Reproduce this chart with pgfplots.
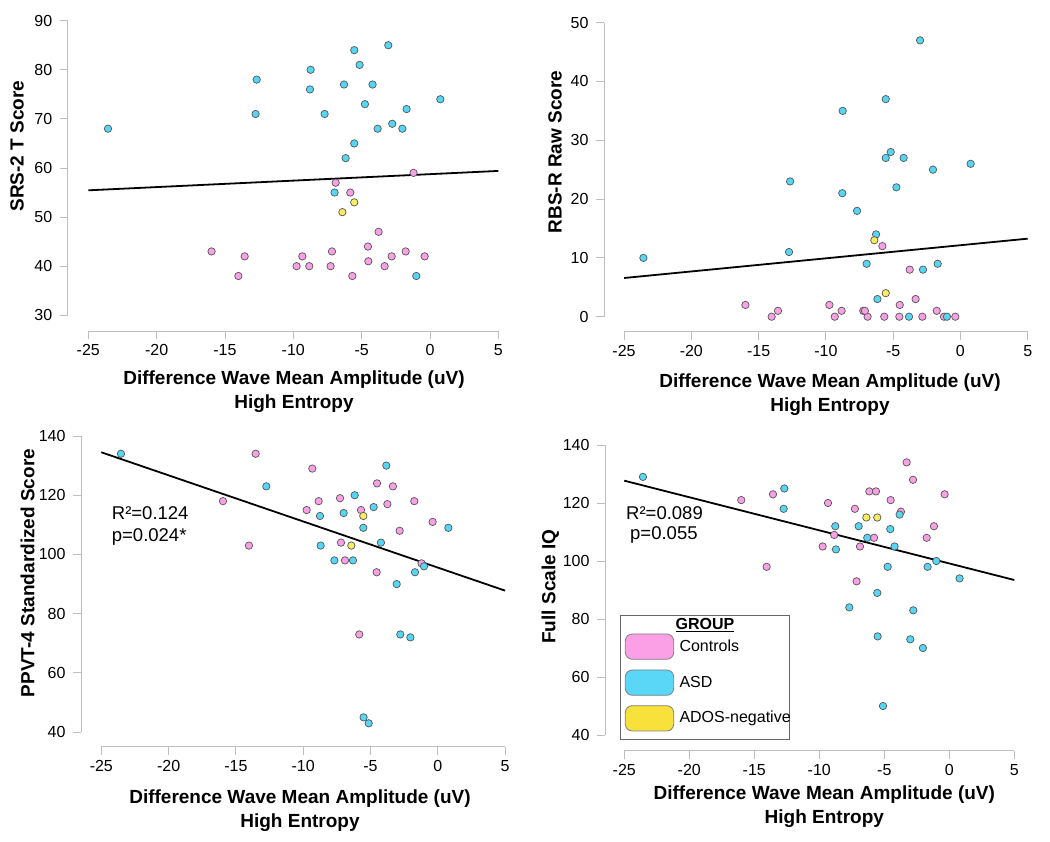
\documentclass[border=0pt]{standalone}
\usepackage{fontspec}
\setmainfont{Liberation Sans}
\usepackage{pgfplots}
\pgfplotsset{compat=1.18}
\definecolor{pinkc}{RGB}{249,160,230}
\definecolor{cyanc}{RGB}{86,214,245}
\definecolor{yelc}{RGB}{248,236,96}
\definecolor{lpink}{RGB}{251,160,230}
\definecolor{lcyan}{RGB}{90,215,247}
\definecolor{lyel}{RGB}{248,225,58}
\definecolor{axgray}{RGB}{190,190,190}
\definecolor{mkgray}{RGB}{85,85,85}
\newcommand{\tfont}{\fontsize{16}{16}\selectfont}
\pgfplotsset{panel/.style={scale only axis, anchor=south west,
  axis x line=bottom, axis y line=left, axis line style={draw=none,-},
  tick align=outside, major tick length=8pt,
  tick style={draw=axgray, line width=0.9pt},
  xtick={-25,-20,...,5}, xmax=5,
  xticklabel={\tfont\pgfmathprintnumber[assume math mode=true]{\tick}},
  yticklabel={\tfont\pgfmathprintnumber[assume math mode=true]{\tick}},
  xticklabel style={yshift=-2pt},
  yticklabel style={xshift=-4pt},
  clip=false},
  pts/.style={only marks, mark=*, mark size=3.7pt, mark options={draw=mkgray, line width=0.7pt, fill=#1}},
  reg/.style={black, line width=1.8pt, no marks}}
\newcommand{\lab}{\bfseries\fontsize{19}{19}\selectfont}
\begin{document}
\begin{tikzpicture}[x=1pt,y=1pt]
\useasboundingbox (0,0) rectangle (1050,842);
% ---------- Panel 1: SRS-2 ----------
\begin{axis}[panel, at={(67.8pt,511pt)}, width=430.5pt, height=310.3pt,
  xmin=-26.5, ymin=26.8, ymax=90, ytick={30,40,...,90}]
\draw[axgray, line width=0.9pt] (axis cs:-25,26.8) -- (axis cs:5,26.8);
\draw[axgray, line width=0.9pt] (axis cs:-26.5,30) -- (axis cs:-26.5,90);
\addplot[pts=pinkc] table {
-6.90 57
-5.83 55
-1.20 59
-3.76 47
-4.54 44
-4.51 41
-3.32 40
-2.80 42
-1.78 43
-0.39 42
-5.68 38
-7.17 43
-7.27 40
-8.83 40
-9.34 42
-9.76 40
-14.02 38
-13.56 42
-15.98 43
};
\addplot[pts=cyanc] table {
-23.56 68
-12.68 78
-12.76 71
-8.73 80
-8.78 76
-7.71 71
-5.54 84
-3.05 85
-5.15 81
-6.29 77
-4.20 77
-4.76 73
0.76 74
-1.71 72
-2.76 69
-2.02 68
-3.83 68
-5.54 65
-6.17 62
-6.98 55
-1.00 38
};
\addplot[pts=yelc] table {
-5.54 53
-6.41 51
};
\addplot[reg] coordinates {(-25,55.45) (5,59.4)};
\end{axis}
% ---------- Panel 2: RBS-R ----------
\begin{axis}[panel, at={(604pt,510.3pt)}, width=423.7pt, height=309pt,
  xmin=-26.49, ymin=-2.55, ymax=50, ytick={0,10,...,50}]
\draw[axgray, line width=0.9pt] (axis cs:-25,-2.55) -- (axis cs:5,-2.55);
\draw[axgray, line width=0.9pt] (axis cs:-26.49,0) -- (axis cs:-26.49,50);
\addplot[pts=pinkc] table {
-5.80 12
-3.77 8
-3.33 3
-4.51 2
-4.54 0
-2.83 0
-1.76 1
-1.22 0
-0.38 0
-5.66 0
-6.90 0
-7.22 1
-7.10 1
-8.83 1
-9.34 0
-9.74 2
-13.56 1
-14.03 0
-15.98 2
};
\addplot[pts=cyanc] table {
-23.56 10
-12.66 23
-12.74 11
-8.75 35
-8.78 21
-7.68 18
-5.55 37
-3.00 47
-5.18 28
-5.55 27
-4.22 27
-4.76 22
-2.04 25
0.76 26
-6.27 14
-6.97 9
-6.17 3
-1.69 9
-2.78 8
-3.82 0
-1.00 0
};
\addplot[pts=yelc] table {
-6.40 13
-5.55 4
};
\addplot[reg] coordinates {(-25,6.58) (5,13.27)};
\end{axis}
% ---------- Panel 3: PPVT-4 ----------
\begin{axis}[panel, at={(81pt,95.3pt)}, width=424pt, height=310.7pt,
  xmin=-26.51, ymin=35.1, ymax=140, ytick={40,60,...,140}]
\draw[axgray, line width=0.9pt] (axis cs:-25,35.1) -- (axis cs:5,35.1);
\draw[axgray, line width=0.9pt] (axis cs:-26.51,40) -- (axis cs:-26.51,140);
\addplot[pts=pinkc] table {
-13.53 134
-15.96 118
-14.03 103
-9.32 129
-9.74 115
-8.85 118
-7.26 119
-7.19 104
-6.89 98
-5.83 73
-5.70 115
-4.51 124
-4.54 94
-3.74 117
-3.33 123
-2.83 108
-1.74 118
-1.20 97
-0.38 111
};
\addplot[pts=cyanc] table {
-23.54 134
-12.74 123
-8.75 113
-8.70 103
-7.68 98
-6.99 114
-6.17 120
-6.30 98
-5.53 109
-4.76 116
-3.82 130
-4.22 104
-3.05 90
-1.69 94
-1.02 96
0.79 109
-2.78 73
-2.03 72
-5.51 45
-5.13 43
};
\addplot[pts=yelc] table {
-5.53 113
-6.42 103
};
\addplot[reg] coordinates {(-25,134.5) (5,87.8)};
\end{axis}
% ---------- Panel 4: FSIQ ----------
\begin{axis}[panel, at={(605pt,91.3pt)}, width=409.3pt, height=305.7pt,
  xmin=-26.48, ymin=34.6, ymax=140, ytick={40,60,...,140}]
\draw[axgray, line width=0.9pt] (axis cs:-25,34.6) -- (axis cs:5,34.6);
\draw[axgray, line width=0.9pt] (axis cs:-26.48,40) -- (axis cs:-26.48,140);
\addplot[pts=pinkc] table {
-16.00 121
-13.56 123
-14.05 98
-9.33 120
-9.74 105
-8.85 109
-7.26 118
-7.13 93
-6.87 105
-6.15 124
-5.64 124
-5.79 108
-4.51 121
-3.72 117
-3.28 134
-2.79 128
-1.74 108
-1.18 112
-0.36 123
};
\addplot[pts=cyanc] table {
-23.56 129
-12.69 125
-12.74 118
-8.77 112
-8.72 104
-7.69 84
-6.97 112
-6.31 108
-5.54 89
-5.51 74
-5.10 50
-4.74 98
-4.54 111
-4.21 105
-3.82 116
-2.77 83
-3.00 73
-2.03 70
-1.67 98
-1.00 100
0.79 94
};
\addplot[pts=yelc] table {
-6.38 115
-5.54 115
};
\addplot[reg] coordinates {(-25,127.7) (5,93.45)};
\end{axis}
% ---------- labels ----------
\node[rotate=90, font=\lab] at (17,696) {SRS-2 T Score};
\node[font=\lab] at (294,462) {Difference Wave Mean Amplitude (uV)};
\node[font=\lab] at (294,438) {High Entropy};
\node[rotate=90, font=\lab] at (555,690) {RBS-R Raw Score};
\node[font=\lab] at (830,459) {Difference Wave Mean Amplitude (uV)};
\node[font=\lab] at (830,435) {High Entropy};
\node[rotate=90, font=\lab] at (27.5,269) {PPVT-4 Standardized Score};
\node[font=\lab] at (300,43) {Difference Wave Mean Amplitude (uV)};
\node[font=\lab] at (300,19) {High Entropy};
\node[rotate=90, font=\lab] at (550.3,255.3) {Full Scale IQ};
\node[font=\lab] at (824.3,47) {Difference Wave Mean Amplitude (uV)};
\node[font=\lab] at (824.3,23.7) {High Entropy};
% stats text
\node[anchor=west, inner sep=0, font=\fontsize{18.5}{18.5}\selectfont] at (111.7,328.7) {R²=0.124};
\node[anchor=west, inner sep=0, font=\fontsize{18.5}{18.5}\selectfont] at (111.7,305.3) {p=0.024*};
\node[anchor=west, inner sep=0, font=\fontsize{18.5}{18.5}\selectfont] at (626,329.3) {R²=0.089};
\node[anchor=west, inner sep=0, font=\fontsize{18.5}{18.5}\selectfont] at (630,307) {p=0.055};
% legend
\draw[fill=white, draw=gray!80!black, line width=0.9pt] (620.7,103) rectangle (789.3,226.3);
\node[font=\bfseries\fontsize{16}{16}\selectfont] at (705,217) {\underline{GROUP}};
\draw[fill=lpink, draw=gray, line width=0.8pt, rounded corners=7pt] (625.3,182.7) rectangle (673.7,208);
\draw[fill=lcyan, draw=gray, line width=0.8pt, rounded corners=7pt] (625.3,146.7) rectangle (673.7,172);
\draw[fill=lyel, draw=gray, line width=0.8pt, rounded corners=7pt] (625.3,111) rectangle (673.7,136.3);
\node[anchor=west, inner sep=0, font=\fontsize{16}{16}\selectfont] at (679.3,196) {Controls};
\node[anchor=west, inner sep=0, font=\fontsize{16}{16}\selectfont] at (679.3,159.7) {ASD};
\node[anchor=west, inner sep=0, font=\fontsize{16}{16}\selectfont] at (679.3,123.7) {ADOS-negative};
\end{tikzpicture}
\end{document}
